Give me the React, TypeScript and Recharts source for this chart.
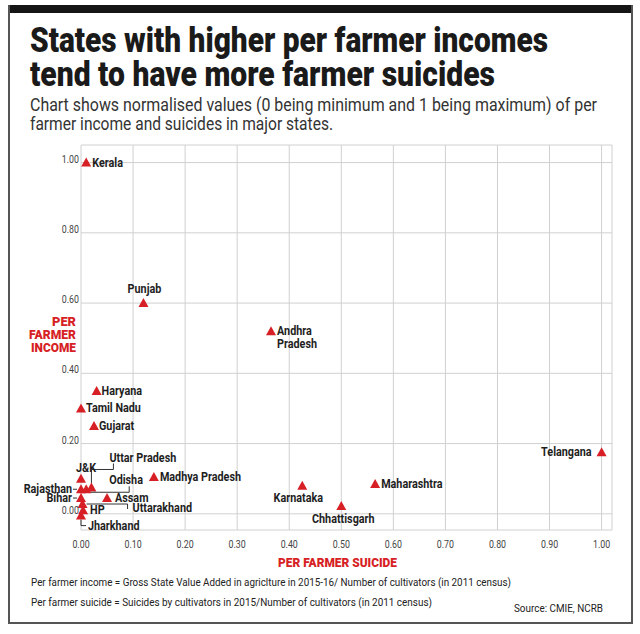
import React from 'react';
import { ScatterChart, Scatter, XAxis, YAxis, CartesianGrid } from 'recharts';

// normalised values
const states = [
  'Kerala', 'Punjab', 'Andhra Pradesh', 'Haryana', 'Tamil Nadu', 'Gujarat',
  'Uttar Pradesh', 'J&K', 'Odisha', 'Madhya Pradesh', 'Rajasthan', 'Bihar',
  'Assam', 'Uttarakhand', 'HP', 'Jharkhand', 'Karnataka', 'Chhattisgarh',
  'Maharashtra', 'Telangana',
];
const perFarmerSuicide = [
  0.01, 0.12, 0.365, 0.03, 0.0, 0.025,
  0.02, 0.0, 0.01, 0.14, 0.0, 0.0,
  0.05, 0.003, 0.004, 0.0, 0.425, 0.5,
  0.565, 1.0,
];
const perFarmerIncome = [
  1.0, 0.6, 0.52, 0.35, 0.3, 0.25,
  0.075, 0.1, 0.07, 0.105, 0.07, 0.045,
  0.045, 0.028, 0.01, -0.005, 0.08, 0.022,
  0.085, 0.175,
];
const xTicks = [0, 0.1, 0.2, 0.3, 0.4, 0.5, 0.6, 0.7, 0.8, 0.9, 1.0];
const yTicks = [0, 0.2, 0.4, 0.6, 0.8, 1.0];

const RED = '#d71f26';
const FONT = "Roboto, 'Liberation Sans', sans-serif";

type Layout = {
  anchor: 'start' | 'middle' | 'end';
  dx: number;
  dy: number;
  lines?: string[];
  leader?: number[][];
};

// label placement relative to each marker
const labelLayout: Record<string, Layout> = {
  Kerala: { anchor: 'start', dx: 6, dy: 0 },
  Punjab: { anchor: 'middle', dx: 1, dy: -14 },
  'Andhra Pradesh': { anchor: 'start', dx: 6, dy: 0, lines: ['Andhra', 'Pradesh'] },
  Haryana: { anchor: 'start', dx: 5, dy: 0 },
  'Tamil Nadu': { anchor: 'start', dx: 5, dy: 0 },
  Gujarat: { anchor: 'start', dx: 5, dy: 0 },
  'Uttar Pradesh': { anchor: 'start', dx: 18, dy: -29, leader: [[0, -4], [0, -18], [22, -18], [22, -24]] },
  'J&K': { anchor: 'middle', dx: 5, dy: -11 },
  Odisha: { anchor: 'start', dx: 23, dy: -9, leader: [[0, 3], [43, 3], [43, -3]] },
  'Madhya Pradesh': { anchor: 'start', dx: 6, dy: 0 },
  Rajasthan: { anchor: 'end', dx: -9, dy: 0, leader: [[-8, 0], [-4, 0]] },
  Bihar: { anchor: 'end', dx: -9, dy: 0, leader: [[-8, 0], [-4, 0]] },
  Assam: { anchor: 'start', dx: 8, dy: 0 },
  Uttarakhand: { anchor: 'start', dx: 50, dy: 4, leader: [[4, 0], [45, 0], [45, 5]] },
  HP: { anchor: 'start', dx: 7, dy: 0 },
  Jharkhand: { anchor: 'start', dx: 7, dy: 10, leader: [[0, 4], [0, 10], [5, 10]] },
  Karnataka: { anchor: 'middle', dx: -4, dy: 12 },
  Chhattisgarh: { anchor: 'middle', dx: 2, dy: 13 },
  Maharashtra: { anchor: 'start', dx: 6, dy: 0 },
  Telangana: { anchor: 'end', dx: -10, dy: 0 },
};

const data = states.map((name, i) => ({ name, x: perFarmerSuicide[i], y: perFarmerIncome[i] }));

function StateMark(props: any) {
  const { cx, cy, payload } = props;
  const lay = labelLayout[payload.name];
  const lines = lay.lines || [payload.name];
  return (
    <g>
      {lay.leader && (
        <polyline
          points={lay.leader.map((p) => `${cx + p[0]},${cy + p[1]}`).join(' ')}
          fill="none"
          stroke="#333"
          strokeWidth={1}
        />
      )}
      <path d={`M${cx},${cy - 5} L${cx + 5},${cy + 4} L${cx - 5},${cy + 4} Z`} fill={RED} />
      {lines.map((t, i) => (
        <g key={t} transform={`translate(${cx + lay.dx},${cy + lay.dy + i * 13 + 4}) scale(0.9,1)`}>
          <text x={0} y={0} textAnchor={lay.anchor} fontFamily={FONT} fontWeight="bold" fontSize={12} fill="#1e1e1e">
            {t}
          </text>
        </g>
      ))}
    </g>
  );
}

function XTick({ x, y, payload }: any) {
  return (
    <g transform={`translate(${x},${y + 16}) scale(0.8,1)`}>
      <text x={0} y={0} textAnchor="middle" fontFamily={FONT} fontSize={11} fill="#444">
        {payload.value.toFixed(2)}
      </text>
    </g>
  );
}

function YTick({ x, y, payload }: any) {
  return (
    <g transform={`translate(${x},${y}) scale(0.8,1)`}>
      <text x={0} y={0} textAnchor="end" fontFamily={FONT} fontSize={11} fill="#444">
        {payload.value.toFixed(2)}
      </text>
    </g>
  );
}

// text squeezed to the printed width
function Fit({ x, y, w, size, bold, color, anchor, children }: any) {
  return (
    <text
      x={x}
      y={y}
      textLength={w}
      lengthAdjust="spacingAndGlyphs"
      textAnchor={anchor || 'start'}
      fontFamily={FONT}
      fontSize={size}
      fontWeight={bold ? 900 : 400}
      fill={color || '#222'}
    >
      {children}
    </text>
  );
}

export default function App() {
  return (
    <div style={{ position: 'absolute', left: 0, top: 0, width: 640, height: 634, background: '#fff', overflow: 'hidden' }}>
      <div style={{ position: 'absolute', left: 0, top: 0 }}>
        <ScatterChart width={640} height={634} margin={{ top: 145, right: 28, bottom: 74, left: 41 }}>
          <CartesianGrid stroke="#d0d0d0" strokeWidth={1} />
          <XAxis
            type="number"
            dataKey="x"
            domain={[0, 1.02]}
            ticks={xTicks}
            axisLine={false}
            tickLine={false}
            tickSize={0}
            height={30}
            tick={<XTick />}
          />
          <YAxis
            type="number"
            dataKey="y"
            domain={[-0.046, 1.05]}
            ticks={yTicks}
            axisLine={false}
            tickLine={false}
            tickSize={0}
            width={40}
            tick={<YTick />}
          />
          <Scatter data={data} isAnimationActive={false} shape={(p: any) => <StateMark {...p} />} />
        </ScatterChart>
      </div>

      <svg width={640} height={634} style={{ position: 'absolute', left: 0, top: 0, pointerEvents: 'none' }}>
        {/* frame */}
        <rect x={8} y={5} width={625} height={8} fill="#151515" />
        <rect x={8} y={5} width={2} height={619} fill="#555" />
        <rect x={631} y={5} width={2} height={619} fill="#555" />
        <rect x={8} y={622} width={625} height={2} fill="#555" />

        <Fit x={30} y={52} w={518} size={35} bold color="#1a1a1a">States with higher per farmer incomes</Fit>
        <Fit x={30} y={86} w={465} size={35} bold color="#1a1a1a">tend to have more farmer suicides</Fit>
        <Fit x={30} y={111} w={567} size={19} color="#333">Chart shows normalised values (0 being minimum and 1 being maximum) of per</Fit>
        <Fit x={30} y={130} w={303} size={19} color="#333">farmer income and suicides in major states.</Fit>

        <Fit x={76} y={326} w={24} size={13} bold color={RED} anchor="end">PER</Fit>
        <Fit x={76} y={339} w={47} size={13} bold color={RED} anchor="end">FARMER</Fit>
        <Fit x={76} y={352} w={45} size={13} bold color={RED} anchor="end">INCOME</Fit>

        <Fit x={278} y={567} w={119} size={13} bold color={RED}>PER FARMER SUICIDE</Fit>
        <Fit x={31} y={586} w={480} size={11.5}>Per farmer income = Gross State Value Added in agriclture in 2015-16/ Number of cultivators (in 2011 census)</Fit>
        <Fit x={31} y={606} w={401} size={11.5}>Per farmer suicide = Suicides by cultivators in 2015/Number of cultivators (in 2011 census)</Fit>
        <Fit x={514} y={612} w={89} size={11.5}>Source: CMIE, NCRB</Fit>
      </svg>
    </div>
  );
}
